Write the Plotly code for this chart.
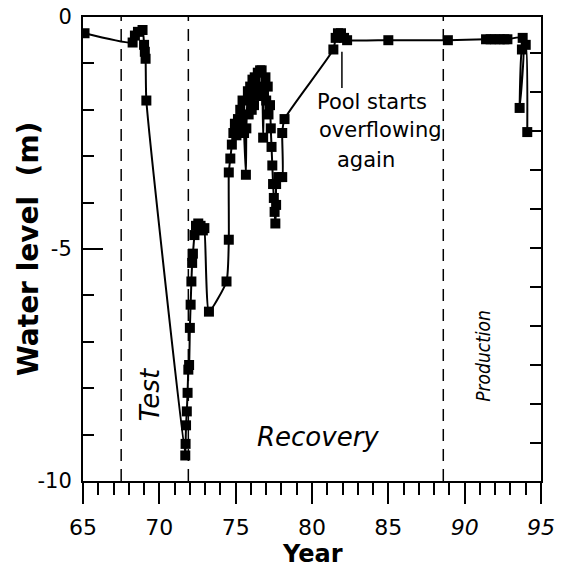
import plotly.graph_objects as go

# ---- data ----
years = [65.1, 68.25, 68.4, 68.6, 68.9, 69.0, 69.05, 69.1, 69.15,
         71.7, 71.72, 71.75, 71.8, 71.85, 71.9, 71.95, 72.0, 72.05, 72.1, 72.15, 72.2,
         72.3, 72.4, 72.55, 72.7, 72.85, 72.95,
         73.25, 74.4, 74.55, 74.55,
         74.65, 74.75, 74.85, 74.95, 75.05, 75.15, 75.25, 75.3, 75.4, 75.45, 75.55, 75.67,
         75.7, 75.8, 75.85, 75.95, 76.05, 76.1, 76.2, 76.25, 76.35, 76.45, 76.5, 76.6,
         76.7, 76.75, 76.8, 76.85, 76.95, 77.0, 77.1, 77.15, 77.25, 77.3, 77.35, 77.4,
         77.45, 77.5, 77.55, 77.6, 77.65, 77.65, 77.8, 78.05, 78.05, 78.2,
         81.4, 81.55, 81.7, 81.9, 82.1, 82.3, 85.0, 88.9,
         91.4, 91.7, 92.0, 92.3, 92.6, 92.8, 93.8, 93.6, 93.75, 94.0, 94.1]
level = [-0.35, -0.55, -0.4, -0.32, -0.28, -0.6, -0.75, -0.9, -1.8,
         -9.45, -9.2, -8.8, -8.5, -8.1, -7.6, -7.5, -6.7, -6.2, -5.7, -5.3, -5.1,
         -4.7, -4.5, -4.45, -4.5, -4.6, -4.55,
         -6.35, -5.7, -4.8, -3.35,
         -3.05, -2.75, -2.5, -2.3, -2.55, -2.2, -2.4, -2.0, -2.3, -1.8, -2.5, -3.4,
         -2.4, -1.6, -2.1, -1.5, -2.0, -1.35, -1.9, -1.3, -1.7, -1.2, -1.6, -1.15,
         -1.15, -1.5, -2.6, -1.7, -1.3, -1.8, -1.5, -2.1, -1.9, -2.4, -2.8, -3.2,
         -3.6, -3.9, -4.2, -4.45, -4.05, -3.6, -3.45, -3.45, -2.5, -2.2,
         -0.7, -0.45, -0.35, -0.35, -0.45, -0.5, -0.5, -0.5,
         -0.48, -0.48, -0.48, -0.48, -0.48, -0.48, -0.45, -1.96, -0.7, -0.6, -2.48]

period_bounds = [67.5, 71.9, 88.6]
x_tickvals = [65, 70, 75, 80, 85, 90, 95]
x_ticktext = ["65", "70", "75", "80", "85", "<i>90</i>", "<i>95</i>"]
y_tickvals = [0, -5, -10]
y_ticktext = ["0", "-5", "-10"]

FONT = "DejaVu Sans, Verdana, sans-serif"
NARROW = "Liberation Sans Narrow, Arial Narrow, DejaVu Sans Condensed, sans-serif"

fig = go.Figure()
fig.add_trace(go.Scatter(
    x=years, y=level, mode="lines+markers",
    line=dict(color="black", width=2, shape="spline", smoothing=0.5),
    marker=dict(symbol="square", size=10, color="black"),
    showlegend=False, hoverinfo="skip",
))
# empty trace so the right-hand tick axis is drawn
fig.add_trace(go.Scatter(x=[], y=[], yaxis="y2", showlegend=False, hoverinfo="skip"))

for xb in period_bounds:
    fig.add_shape(type="line", xref="x", yref="paper", x0=xb, x1=xb, y0=0, y1=1,
                  line=dict(color="black", width=1.5, dash="12px,8px"))

# annotation leader line
fig.add_shape(type="line", xref="x", yref="y", x0=81.96, x1=81.96, y0=-0.75, y1=-1.53,
              line=dict(color="black", width=1.5))

ann = [
    dict(text="Pool starts", x=80.19, y=-1.83),
    dict(text="overflowing", x=80.3, y=-2.44),
    dict(text="again", x=81.5, y=-3.08),
]
for a in ann:
    fig.add_annotation(xref="x", yref="y", showarrow=False, xanchor="left", yanchor="middle",
                       font=dict(family=FONT, size=21, color="black"), **a)

fig.add_annotation(xref="x", yref="y", x=69.4, y=-8.15, text="<i>Test</i>", textangle=-90,
                   showarrow=False, font=dict(family=FONT, size=26, color="black"))
fig.add_annotation(xref="x", yref="y", x=80.4, y=-9.05, text="<i>Recovery</i>",
                   showarrow=False, font=dict(family=FONT, size=26, color="black"))
fig.add_annotation(xref="x", yref="y", x=91.2, y=-7.3, text="<i>Production</i>", textangle=-90,
                   showarrow=False, font=dict(family=NARROW, size=19, color="black"))

# axis titles
fig.add_annotation(xref="paper", yref="paper", x=-0.12, y=0.5, xanchor="center", yanchor="middle",
                   text="<b>Water level\u00a0 (m)</b>", textangle=-90, showarrow=False,
                   font=dict(family=FONT, size=28, color="black"))
fig.add_annotation(xref="paper", yref="paper", x=0.5, y=-0.157, xanchor="center", yanchor="middle",
                   text="<b>Year</b>", showarrow=False,
                   font=dict(family=FONT, size=24, color="black"))

# plot area at x 83..541, y 17..481 (page body margin removed below)
fig.update_layout(
    width=566, height=568, autosize=False,
    margin=dict(l=83, r=25, t=17, b=87),
    paper_bgcolor="white", plot_bgcolor="white",
    font=dict(family=FONT, color="black"),
    xaxis=dict(range=[65, 95], tickvals=x_tickvals, ticktext=x_ticktext, automargin=False,
               ticks="outside", ticklen=21, tickwidth=2, tickcolor="black",
               minor=dict(dtick=1, tick0=65, ticks="outside", ticklen=12, tickwidth=2, tickcolor="black"),
               showline=True, linewidth=2, linecolor="black", mirror=True,
               showgrid=False, zeroline=False, tickfont=dict(size=22, family=FONT),
               ticklabelstandoff=5, ticklabeloverflow="allow"),
    yaxis=dict(range=[-10, 0], tickvals=y_tickvals, ticktext=y_ticktext, automargin=False,
               ticks="inside", ticklen=20, tickwidth=2, tickcolor="black",
               minor=dict(dtick=1, tick0=0, ticks="inside", ticklen=11, tickwidth=2, tickcolor="black"),
               showline=True, linewidth=2, linecolor="black", mirror=True,
               showgrid=False, zeroline=False, tickfont=dict(size=21, family=FONT),
               ticklabelstandoff=5, ticklabeloverflow="allow"),
    yaxis2=dict(range=[-10.974, 0.923], overlaying="y", side="right", anchor="x", automargin=False,
                dtick=1, tick0=0, ticks="inside", ticklen=11, tickwidth=2, tickcolor="black",
                showticklabels=False, showline=False, showgrid=False, zeroline=False),
)

fig.write_html("out.html", config={"displayModeBar": False},
               post_script="document.body.style.margin='0px';")
